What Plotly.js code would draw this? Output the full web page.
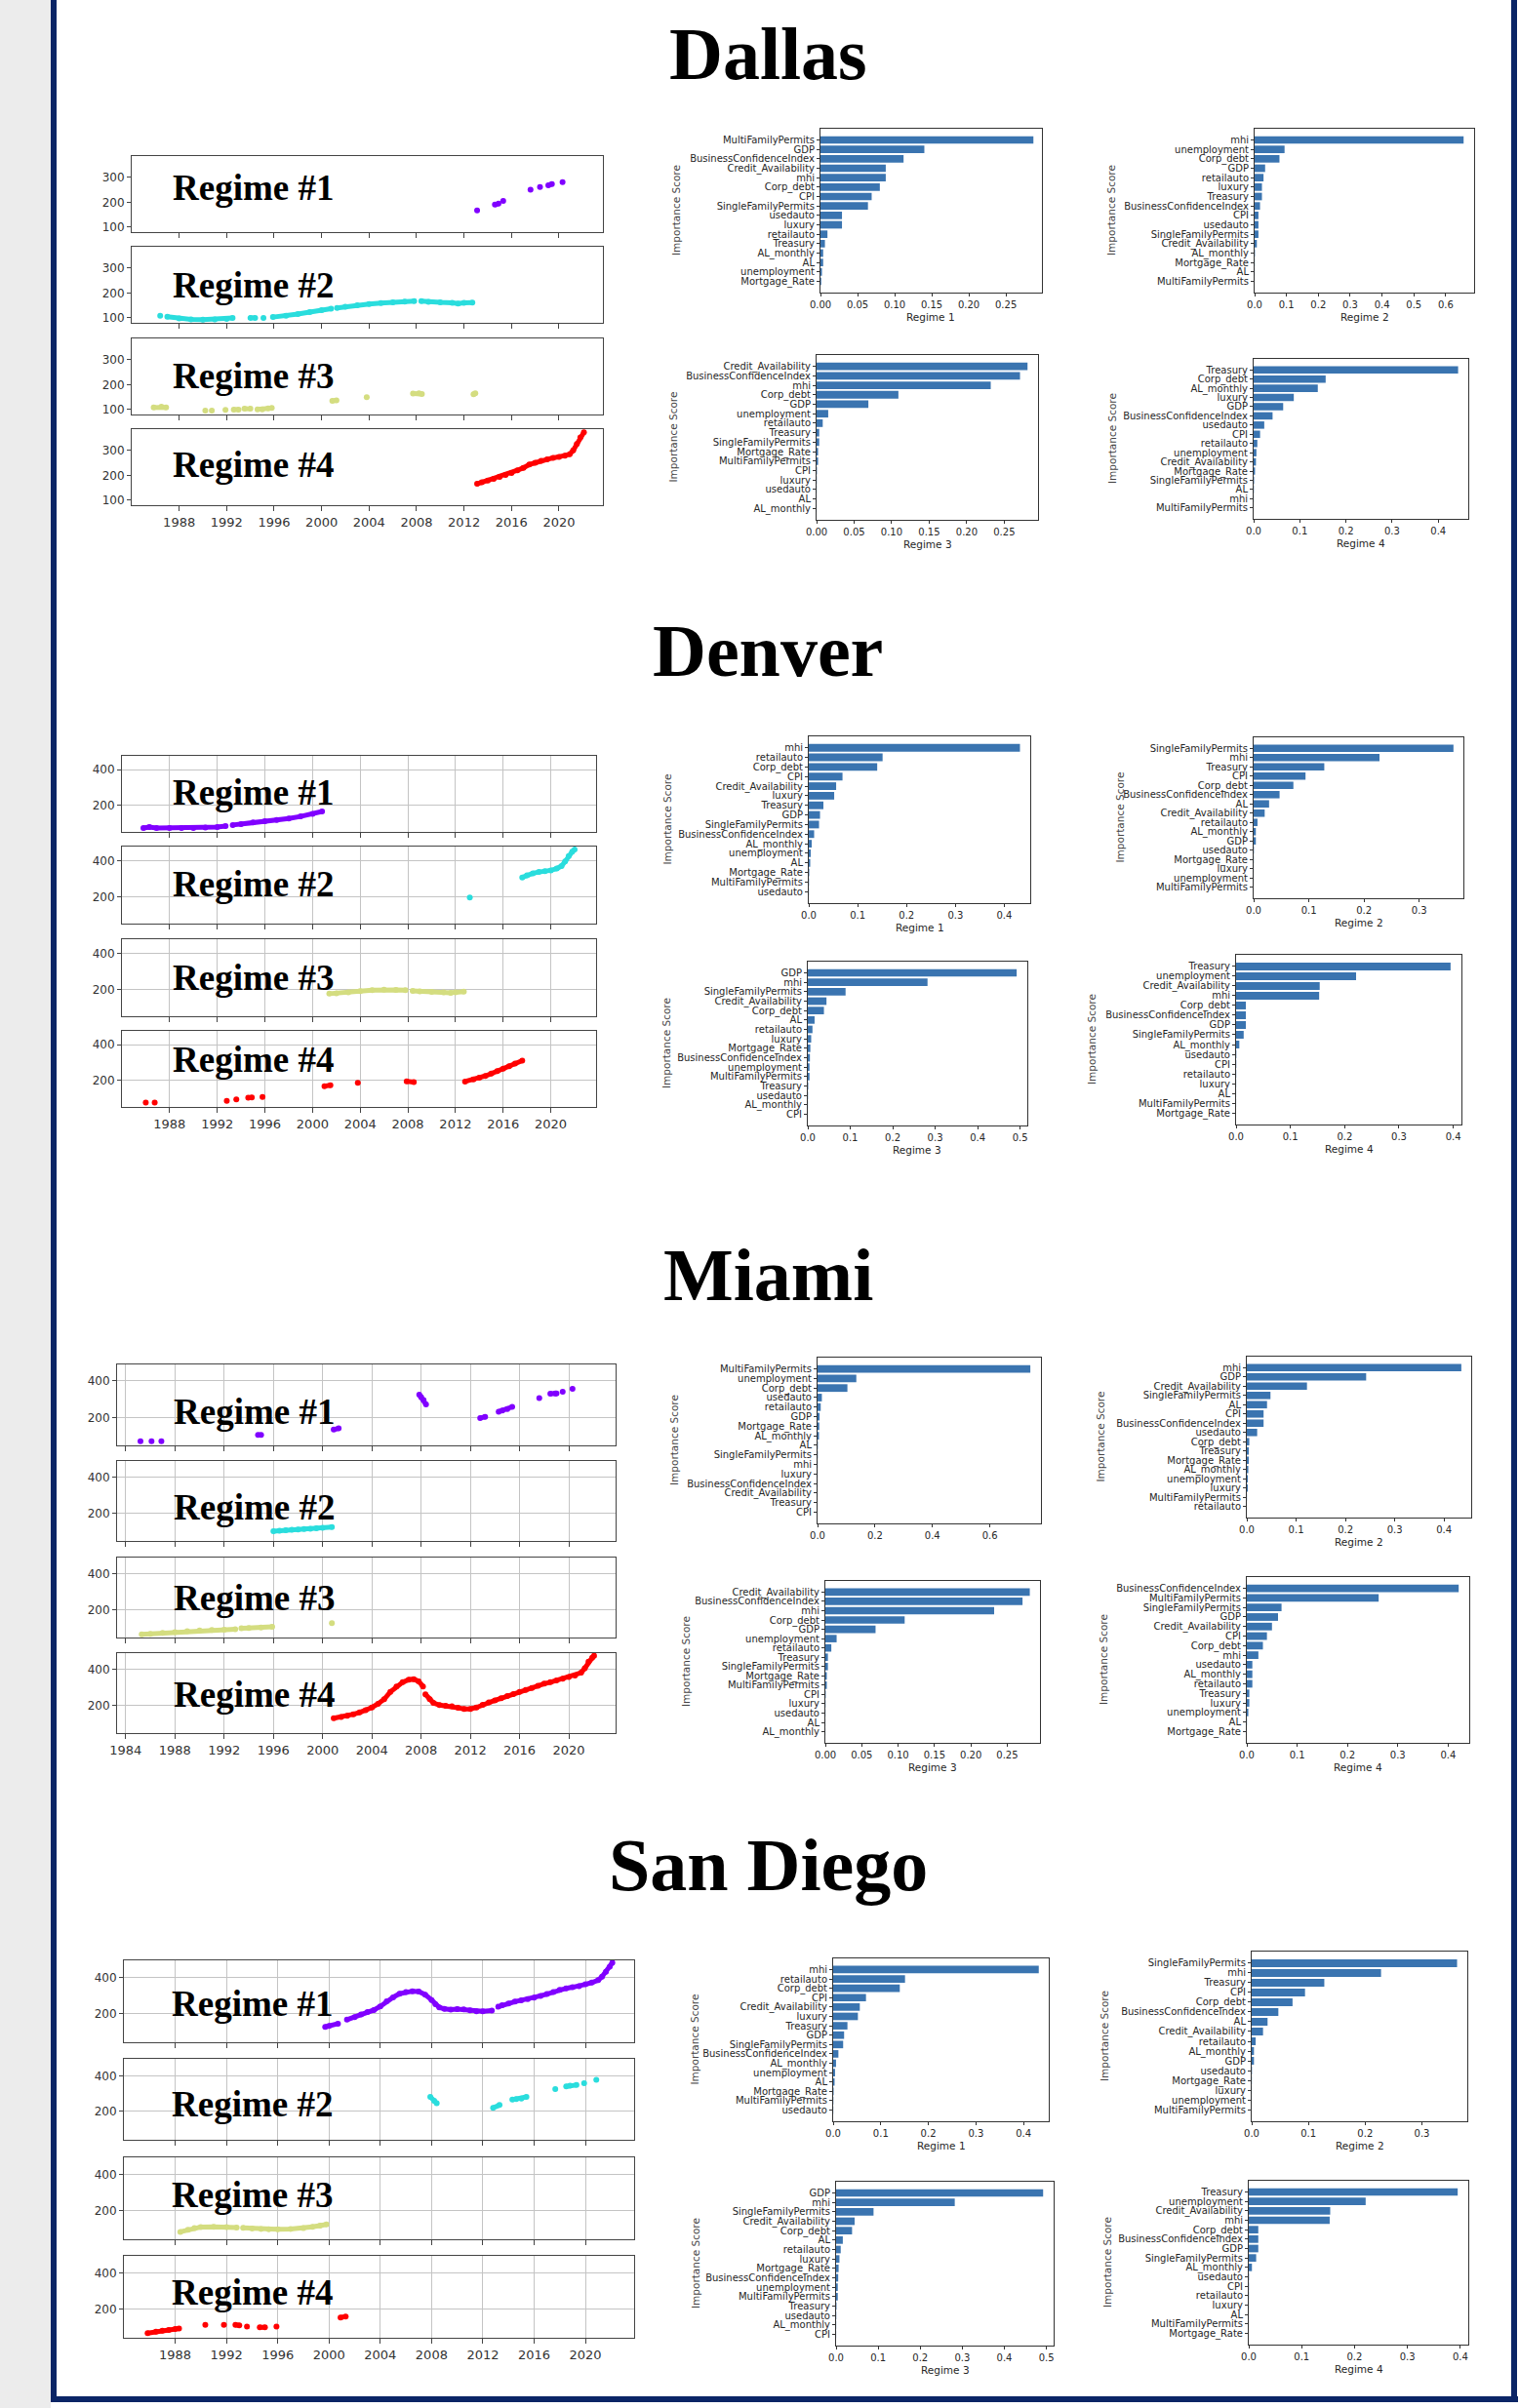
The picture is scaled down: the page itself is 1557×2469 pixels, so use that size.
<!DOCTYPE html>
<html><head><meta charset="utf-8">
<script src="https://cdn.plot.ly/plotly-3.0.1.min.js"></script>
<style>html,body{margin:0;padding:0;background:#fff;} #chart{width:1557px;height:2469px;}</style>
</head><body><div id="chart"></div>
<script>
// ---------------- DATA ----------------
// Regime scatter data (year, house price index)
const dallasR1Years  = [2013.1, null, 2014.6, 2014.9, null, 2015.3, null, 2017.6, null, 2018.4, null, 2019.1, 2019.4, null, 2020.3];
const dallasR1Values = [167, null, 190, 194, null, 205, null, 250, null, 261, null, 268, 273, null, 280];
const dallasR2Years  = [1986.4, null, 1987.0, 1988.0, 1989.0, 1990.0, 1991.0, 1992.0, 1992.5, null, 1994.0, 1994.4, null, 1995.1, null, 1995.9, 1997.0, 1998.0, 1999.0, 2000.0, 2000.8, null, 2001.3, 2002.0, 2003.0, 2004.0, 2005.0, 2006.0, 2007.0, 2007.8, null, 2008.4, 2009.0, 2010.0, 2011.0, 2011.5, 2012.0, 2012.7];
const dallasR2Values = [108, null, 104, 98, 94, 93, 94, 96, 100, null, 100, 100, null, 100, null, 103, 108, 115, 123, 131, 137, null, 140, 145, 150, 155, 159, 162, 165, 167, null, 167, 164, 162, 160, 157, 160, 161];
const dallasR3Years  = [1985.85, 1986.5, 1986.9, null, 1990.2, null, 1990.75, null, 1991.9, null, 1992.6, 1993.0, null, 1993.5, 1994.0, null, 1994.6, 1995.0, 1995.5, 1995.8, null, 2000.9, 2001.25, null, 2003.8, null, 2007.7, 2008.2, 2008.45, null, 2012.8, 2012.95];
const dallasR3Values = [108, 111, 108, null, 96, null, 96, null, 99, null, 100, 100, null, 103, 103, null, 101, 101, 104, 106, null, 135, 137, null, 149, null, 164, 165, 162, null, 161, 165];
const dallasR4Years  = [2013.1, 2013.5, 2014.0, 2014.5, 2015.0, 2015.5, 2016.0, 2016.5, 2017.0, 2017.5, 2018.0, 2018.5, 2019.0, 2019.5, 2020.0, 2020.5, 2020.9, 2021.2, 2021.5, 2021.8, 2022.1];
const dallasR4Values = [166, 172, 179, 186, 193, 201, 209, 220, 230, 243, 250, 258, 264, 270, 274, 278, 284, 300, 325, 352, 372];

const denverR1Years  = [1985.8, 1986.3, 1986.9, 1988.0, 1989.0, 1990.0, 1991.0, 1992.0, 1992.7, null, 1993.3, 1994.0, 1995.0, 1996.0, 1997.0, 1998.0, 1999.0, 2000.0, 2000.8];
const denverR1Values = [73, 78, 73, 73, 73, 73, 75, 78, 84, null, 90, 95, 104, 111, 118, 126, 138, 152, 166];
const denverR2Years  = [2013.2, null, 2017.6, 2018.0, 2018.5, 2019.0, 2019.5, 2020.0, 2020.5, 2020.9, 2021.2, 2021.5, 2021.8, 2022.0];
const denverR2Values = [196, null, 307, 318, 330, 337, 341, 346, 356, 370, 395, 425, 450, 462];
const denverR3Years  = [2001.4, 2002.0, 2003.0, 2004.0, 2005.0, 2006.0, 2007.0, 2007.8, null, 2008.4, 2009.0, 2010.0, 2011.0, 2011.6, 2012.0, 2012.7];
const denverR3Values = [176, 178, 184, 190, 195, 198, 197, 195, null, 192, 189, 186, 183, 181, 184, 187];
const denverR4Years  = [1986.0, null, 1986.75, null, 1992.8, null, 1993.6, null, 1994.6, 1994.9, null, 1995.8, null, 2001.0, 2001.5, null, 2003.8, null, 2007.9, 2008.5, null, 2012.8, 2013.5, 2014.0, 2014.5, 2015.0, 2015.5, 2016.0, 2016.5, 2017.0, 2017.6];
const denverR4Values = [76, null, 76, null, 85, null, 93, null, 103, 104, null, 107, null, 168, 173, null, 187, null, 195, 191, null, 194, 205, 215, 225, 238, 252, 266, 280, 295, 311];

const miamiR1Years  = [1985.2, null, 1986.1, null, 1986.9, null, 1994.75, 1995.0, null, 2000.9, 2001.3, null, 2007.85, 2008.0, 2008.2, 2008.4, null, 2012.8, 2013.2, null, 2014.3, 2014.6, 2015.0, 2015.4, null, 2017.6, null, 2018.5, 2018.9, 2019.0, null, 2019.5, null, 2020.3];
const miamiR1Values = [73, null, 73, null, 73, null, 106, 106, null, 135, 142, null, 324, 310, 295, 271, null, 198, 204, null, 232, 238, 246, 258, null, 306, null, 329, 331, 331, null, 340, null, 356];
const miamiR2Years  = [1996.0, 1996.5, 1997.0, 1997.5, 1998.0, 1998.5, 1999.0, 1999.5, 2000.0, 2000.75];
const miamiR2Values = [103, 106, 108, 111, 113, 115, 117, 119, 122, 126];
const miamiR3Years  = [1985.3, 1986.0, 1987.0, 1988.0, 1989.0, 1990.0, 1991.0, 1992.0, 1992.9, null, 1993.4, 1994.0, 1995.0, 1995.9, null, 2000.75];
const miamiR3Values = [67, 70, 75, 79, 84, 88, 91, 93, 95, null, 100, 102, 104, 108, null, 129];
const miamiR4Years  = [2000.9, 2001.5, 2002.0, 2002.5, 2003.0, 2003.5, 2004.0, 2004.5, 2005.0, 2005.5, 2006.0, 2006.5, 2007.0, 2007.4, 2007.8, 2008.15, null, 2008.35, 2008.7, 2009.0, 2009.5, 2010.0, 2010.5, 2011.0, 2011.5, 2012.0, 2012.5, 2013.0, 2013.5, 2014.0, 2014.5, 2015.0, 2015.5, 2016.0, 2016.5, 2017.0, 2017.5, 2018.0, 2018.5, 2019.0, 2019.5, 2020.0, 2020.5, 2021.0, 2021.3, 2021.6, 2021.9, 2022.05];
const miamiR4Values = [131, 138, 145, 153, 163, 175, 190, 210, 235, 275, 305, 328, 342, 345, 333, 305, null, 262, 235, 215, 203, 199, 197, 188, 182, 182, 190, 205, 218, 229, 240, 252, 263, 275, 286, 297, 308, 320, 328, 338, 347, 356, 365, 380, 405, 440, 462, 473];

const sanDiegoR1Years  = [1999.7, 2000.0, 2000.7, null, 2001.4, 2002.0, 2002.5, 2003.0, 2003.5, 2004.0, 2004.5, 2005.0, 2005.5, 2006.0, 2006.5, 2007.0, 2007.5, 2008.0, 2008.3, 2008.6, 2009.0, 2009.5, 2010.0, 2010.5, 2011.0, 2011.5, 2012.0, 2012.7, null, 2013.2, 2013.5, 2014.0, 2014.5, 2015.0, 2015.5, 2016.0, 2016.5, 2017.0, 2017.5, 2018.0, 2018.5, 2019.0, 2019.5, 2020.0, 2020.5, 2021.0, 2021.3, 2021.6, 2021.9, 2022.1];
const sanDiegoR1Values = [126, 132, 144, null, 166, 180, 195, 208, 220, 240, 268, 290, 310, 320, 324, 322, 305, 275, 252, 234, 226, 222, 225, 223, 218, 213, 213, 216, null, 238, 246, 256, 266, 274, 280, 288, 298, 308, 320, 332, 340, 346, 352, 362, 372, 385, 405, 432, 460, 482];
const sanDiegoR2Years  = [2007.9, 2008.2, 2008.4, null, 2012.8, 2013.3, null, 2014.3, 2014.6, 2015.0, 2015.4, null, 2017.65, null, 2018.5, 2018.8, 2019.3, null, 2019.9, null, 2020.85];
const sanDiegoR2Values = [282, 260, 246, null, 220, 236, null, 266, 269, 272, 282, null, 325, null, 340, 344, 348, null, 358, null, 377];
const sanDiegoR3Years  = [1988.4, 1989.0, 1989.5, 1990.0, 1991.0, 1992.0, 1992.8, null, 1993.3, 1994.0, 1994.7, 1995.3, 1996.0, 1997.0, 1998.0, 1998.7, 1999.3, 1999.8];
const sanDiegoR3Values = [82, 94, 103, 109, 110, 109, 106, null, 104, 101, 98, 97, 97, 98, 103, 110, 117, 123];
const sanDiegoR4Years  = [1985.85, 1986.5, 1987.0, 1987.5, 1988.0, 1988.3, null, 1990.35, null, 1991.8, null, 1992.7, 1993.0, null, 1993.6, null, 1994.6, 1995.0, null, 1995.9, null, 2000.9, 2001.3];
const sanDiegoR4Values = [67, 75, 80, 84, 89, 92, null, 112, null, 112, null, 112, 110, null, 103, null, 99, 99, null, 103, null, 153, 159];

// Feature importance data
const dallasBar1Features = ['MultiFamilyPermits','GDP','BusinessConfidenceIndex','Credit_Availability','mhi','Corp_debt','CPI','SingleFamilyPermits','usedauto','luxury','retailauto','Treasury','AL_monthly','AL','unemployment','Mortgage_Rate'];
const dallasBar1Scores   = [0.287, 0.140, 0.112, 0.088, 0.088, 0.080, 0.069, 0.064, 0.029, 0.029, 0.0094, 0.006, 0.0036, 0.0036, 0.002, 0.001];
const dallasBar2Features = ['mhi','unemployment','Corp_debt','GDP','retailauto','luxury','Treasury','BusinessConfidenceIndex','CPI','usedauto','SingleFamilyPermits','Credit_Availability','AL_monthly','Mortgage_Rate','AL','MultiFamilyPermits'];
const dallasBar2Scores   = [0.656, 0.094, 0.078, 0.033, 0.028, 0.023, 0.023, 0.017, 0.012, 0.012, 0.012, 0.007, 0.001, 0.0005, 0.0003, 0];
const dallasBar3Features = ['Credit_Availability','BusinessConfidenceIndex','mhi','Corp_debt','GDP','unemployment','retailauto','Treasury','SingleFamilyPermits','Mortgage_Rate','MultiFamilyPermits','CPI','luxury','usedauto','AL','AL_monthly'];
const dallasBar3Scores   = [0.281, 0.271, 0.232, 0.109, 0.069, 0.0155, 0.0082, 0.0035, 0.0035, 0.002, 0.002, 0.0005, 0.0003, 0.0002, 0.0001, 0.0001];
const dallasBar4Features = ['Treasury','Corp_debt','AL_monthly','luxury','GDP','BusinessConfidenceIndex','usedauto','CPI','retailauto','unemployment','Credit_Availability','Mortgage_Rate','SingleFamilyPermits','AL','mhi','MultiFamilyPermits'];
const dallasBar4Scores   = [0.443, 0.156, 0.139, 0.087, 0.064, 0.041, 0.023, 0.014, 0.008, 0.006, 0.005, 0.003, 0.001, 0.0005, 0.0003, 0.0001];

const denverBar1Features = ['mhi','retailauto','Corp_debt','CPI','Credit_Availability','luxury','Treasury','GDP','SingleFamilyPermits','BusinessConfidenceIndex','AL_monthly','unemployment','AL','Mortgage_Rate','MultiFamilyPermits','usedauto'];
const denverBar1Scores   = [0.432, 0.151, 0.140, 0.069, 0.056, 0.052, 0.030, 0.023, 0.021, 0.011, 0.006, 0.004, 0.003, 0.001, 0.0005, 0.0003];
const denverBar2Features = ['SingleFamilyPermits','mhi','Treasury','CPI','Corp_debt','BusinessConfidenceIndex','AL','Credit_Availability','retailauto','AL_monthly','GDP','usedauto','Mortgage_Rate','luxury','unemployment','MultiFamilyPermits'];
const denverBar2Scores   = [0.362, 0.228, 0.128, 0.094, 0.072, 0.047, 0.028, 0.020, 0.007, 0.004, 0.004, 0.0005, 0.0003, 0.0002, 0.0001, 0];
const denverBar3Features = ['GDP','mhi','SingleFamilyPermits','Credit_Availability','Corp_debt','AL','retailauto','luxury','Mortgage_Rate','BusinessConfidenceIndex','unemployment','MultiFamilyPermits','Treasury','usedauto','AL_monthly','CPI'];
const denverBar3Scores   = [0.492, 0.282, 0.089, 0.044, 0.038, 0.016, 0.011, 0.008, 0.006, 0.005, 0.004, 0.004, 0.001, 0.0005, 0.0003, 0.0002];
const denverBar4Features = ['Treasury','unemployment','Credit_Availability','mhi','Corp_debt','BusinessConfidenceIndex','GDP','SingleFamilyPermits','AL_monthly','usedauto','CPI','retailauto','luxury','AL','MultiFamilyPermits','Mortgage_Rate'];
const denverBar4Scores   = [0.395, 0.221, 0.154, 0.153, 0.018, 0.018, 0.018, 0.014, 0.006, 0.0005, 0.0004, 0.0003, 0.0002, 0.0001, 0.0001, 0];

const miamiBar1Features = ['MultiFamilyPermits','unemployment','Corp_debt','usedauto','retailauto','GDP','Mortgage_Rate','AL_monthly','AL','SingleFamilyPermits','mhi','luxury','BusinessConfidenceIndex','Credit_Availability','Treasury','CPI'];
const miamiBar1Scores   = [0.741, 0.135, 0.104, 0.015, 0.011, 0.007, 0.006, 0.005, 0.001, 0.0008, 0.0005, 0.0004, 0.0003, 0.0002, 0.0001, 0];
const miamiBar2Features = ['mhi','GDP','Credit_Availability','SingleFamilyPermits','AL','CPI','BusinessConfidenceIndex','usedauto','Corp_debt','Treasury','Mortgage_Rate','AL_monthly','unemployment','luxury','MultiFamilyPermits','retailauto'];
const miamiBar2Scores   = [0.435, 0.242, 0.122, 0.048, 0.041, 0.034, 0.034, 0.021, 0.005, 0.004, 0.004, 0.003, 0.002, 0.002, 0.0003, 0.0001];
const miamiBar3Features = ['Credit_Availability','BusinessConfidenceIndex','mhi','Corp_debt','GDP','unemployment','retailauto','Treasury','SingleFamilyPermits','Mortgage_Rate','MultiFamilyPermits','CPI','luxury','usedauto','AL','AL_monthly'];
const miamiBar3Scores   = [0.281, 0.271, 0.232, 0.109, 0.069, 0.0155, 0.0082, 0.0035, 0.0035, 0.002, 0.002, 0.0005, 0.0003, 0.0002, 0.0001, 0.0001];
const miamiBar4Features = ['BusinessConfidenceIndex','MultiFamilyPermits','SingleFamilyPermits','GDP','Credit_Availability','CPI','Corp_debt','mhi','usedauto','AL_monthly','retailauto','Treasury','luxury','unemployment','AL','Mortgage_Rate'];
const miamiBar4Scores   = [0.421, 0.262, 0.069, 0.062, 0.050, 0.040, 0.032, 0.023, 0.011, 0.011, 0.011, 0.005, 0.005, 0.003, 0.0003, 0.0001];

const sanDiegoBar1Features = ['mhi','retailauto','Corp_debt','CPI','Credit_Availability','luxury','Treasury','GDP','SingleFamilyPermits','BusinessConfidenceIndex','AL_monthly','unemployment','AL','Mortgage_Rate','MultiFamilyPermits','usedauto'];
const sanDiegoBar1Scores   = [0.432, 0.151, 0.140, 0.069, 0.056, 0.052, 0.030, 0.023, 0.021, 0.011, 0.006, 0.004, 0.003, 0.001, 0.0005, 0.0003];
const sanDiegoBar2Features = ['SingleFamilyPermits','mhi','Treasury','CPI','Corp_debt','BusinessConfidenceIndex','AL','Credit_Availability','retailauto','AL_monthly','GDP','usedauto','Mortgage_Rate','luxury','unemployment','MultiFamilyPermits'];
const sanDiegoBar2Scores   = [0.362, 0.228, 0.128, 0.094, 0.072, 0.047, 0.028, 0.020, 0.007, 0.004, 0.004, 0.0005, 0.0003, 0.0002, 0.0001, 0];
const sanDiegoBar3Features = ['GDP','mhi','SingleFamilyPermits','Credit_Availability','Corp_debt','AL','retailauto','luxury','Mortgage_Rate','BusinessConfidenceIndex','unemployment','MultiFamilyPermits','Treasury','usedauto','AL_monthly','CPI'];
const sanDiegoBar3Scores   = [0.492, 0.282, 0.089, 0.044, 0.038, 0.016, 0.011, 0.008, 0.006, 0.005, 0.004, 0.004, 0.001, 0.0005, 0.0003, 0.0002];
const sanDiegoBar4Features = ['Treasury','unemployment','Credit_Availability','mhi','Corp_debt','BusinessConfidenceIndex','GDP','SingleFamilyPermits','AL_monthly','usedauto','CPI','retailauto','luxury','AL','MultiFamilyPermits','Mortgage_Rate'];
const sanDiegoBar4Scores   = [0.395, 0.221, 0.154, 0.153, 0.018, 0.018, 0.018, 0.014, 0.006, 0.0005, 0.0004, 0.0003, 0.0002, 0.0001, 0.0001, 0];

const cityNames = ['Dallas', 'Denver', 'Miami', 'San Diego'];
const regimeLabels = ['Regime #1', 'Regime #2', 'Regime #3', 'Regime #4'];
const barAxisLabels = ['Regime 1', 'Regime 2', 'Regime 3', 'Regime 4'];
const yearTicks = [1988, 1992, 1996, 2000, 2004, 2008, 2012, 2016, 2020];
const yearTicksMiami = [1984, 1988, 1992, 1996, 2000, 2004, 2008, 2012, 2016, 2020];

// ---------------- LAYOUT CONFIG ----------------
const W = 1557, H = 2469;
const px = x => x / W, py = y => 1 - y / H;
const regimeColors = ['#8000ff', '#2adddd', '#d4dd80', '#ff0000'];
const barColor = '#3a74b0';

const cityCfg = [
  { title: cityNames[0], titleY: 55, sx: [135, 618], panels: [[160,238],[253,331],[347,425],[440,518]],
    xRange: [1984.0, 2023.7], yRange: [80, 385], yTicks: [100,200,300], grid: false, xTicks: yearTicks, labX: 175, labY: [193,293,385,477],
    series: [[dallasR1Years,dallasR1Values],[dallasR2Years,dallasR2Values],[dallasR3Years,dallasR3Values],[dallasR4Years,dallasR4Values]],
    bars: [
      {f: dallasBar1Features, s: dallasBar1Scores, x:[841,1068], y:[132,300], r:0.2985, dt:0.05, fmt:'.2f', ylx:693, xl:true},
      {f: dallasBar2Features, s: dallasBar2Scores, x:[1286,1511], y:[132,300], r:0.689, dt:0.1, fmt:'.1f', ylx:1139, xl:true},
      {f: dallasBar3Features, s: dallasBar3Scores, x:[837,1064], y:[364,533], r:0.295, dt:0.05, fmt:'.2f', ylx:690, xl:true},
      {f: dallasBar4Features, s: dallasBar4Scores, x:[1285,1505], y:[368,532], r:0.465, dt:0.1, fmt:'.1f', ylx:1140, xl:true}]},
  { title: cityNames[1], titleY: 667, sx: [125, 611], panels: [[775,853],[868,947],[963,1042],[1057,1135]],
    xRange: [1984.0, 2023.8], yRange: [51, 478], yTicks: [200,400], grid: true, xTicks: yearTicks, labX: 175, labY: [812,906,1002,1087],
    series: [[denverR1Years,denverR1Values],[denverR2Years,denverR2Values],[denverR3Years,denverR3Values],[denverR4Years,denverR4Values]],
    bars: [
      {f: denverBar1Features, s: denverBar1Scores, x:[829,1056], y:[755,926], r:0.453, dt:0.1, fmt:'.1f', ylx:683, xl:true},
      {f: denverBar2Features, s: denverBar2Scores, x:[1285,1500], y:[756,921], r:0.38, dt:0.1, fmt:'.1f', ylx:1147, xl:true},
      {f: denverBar3Features, s: denverBar3Scores, x:[828,1053], y:[986,1154], r:0.517, dt:0.1, fmt:'.1f', ylx:683, xl:true},
      {f: denverBar4Features, s: denverBar4Scores, x:[1267,1498], y:[979,1153], r:0.415, dt:0.1, fmt:'.1f', ylx:1119, xl:true}]},
  { title: cityNames[2], titleY: 1307, sx: [120, 631], panels: [[1399,1482],[1498,1580],[1597,1679],[1695,1777]],
    xRange: [1983.3, 2023.8], yRange: [50, 487], yTicks: [200,400], grid: true, xTicks: yearTicksMiami, labX: 176, labY: [1447,1545,1638,1737],
    series: [[miamiR1Years,miamiR1Values],[miamiR2Years,miamiR2Values],[miamiR3Years,miamiR3Values],[miamiR4Years,miamiR4Values]],
    bars: [
      {f: miamiBar1Features, s: miamiBar1Scores, x:[838,1067], y:[1392,1562], r:0.778, dt:0.2, fmt:'.1f', ylx:691, xl:false},
      {f: miamiBar2Features, s: miamiBar2Scores, x:[1278,1508], y:[1391,1556], r:0.455, dt:0.1, fmt:'.1f', ylx:1127, xl:true},
      {f: miamiBar3Features, s: miamiBar3Scores, x:[846,1066], y:[1621,1787], r:0.295, dt:0.05, fmt:'.2f', ylx:703, xl:true},
      {f: miamiBar4Features, s: miamiBar4Scores, x:[1278,1506], y:[1617,1787], r:0.442, dt:0.1, fmt:'.1f', ylx:1131, xl:true}]},
  { title: cityNames[3], titleY: 1912, sx: [127, 650], panels: [[2010,2094],[2111,2194],[2212,2296],[2313,2397]],
    xRange: [1984.0, 2023.8], yRange: [41, 495], yTicks: [200,400], grid: true, xTicks: yearTicks, labX: 174, labY: [2054,2157,2250,2350],
    series: [[sanDiegoR1Years,sanDiegoR1Values],[sanDiegoR2Years,sanDiegoR2Values],[sanDiegoR3Years,sanDiegoR3Values],[sanDiegoR4Years,sanDiegoR4Values]],
    bars: [
      {f: sanDiegoBar1Features, s: sanDiegoBar1Scores, x:[854,1075], y:[2008,2175], r:0.453, dt:0.1, fmt:'.1f', ylx:711, xl:true},
      {f: sanDiegoBar2Features, s: sanDiegoBar2Scores, x:[1283,1504], y:[2001,2175], r:0.38, dt:0.1, fmt:'.1f', ylx:1132, xl:true},
      {f: sanDiegoBar3Features, s: sanDiegoBar3Scores, x:[857,1080], y:[2237,2405], r:0.517, dt:0.1, fmt:'.1f', ylx:713, xl:true},
      {f: sanDiegoBar4Features, s: sanDiegoBar4Scores, x:[1280,1505], y:[2236,2404], r:0.415, dt:0.1, fmt:'.1f', ylx:1135, xl:true}]}
];

// ---------------- BUILD ----------------
const traces = [];
const layout = {
  width: W, height: H, margin: {l:0, r:0, t:0, b:0},
  paper_bgcolor: '#ffffff', plot_bgcolor: '#ffffff', showlegend: false,
  annotations: [], shapes: []
};
let n = 0;
const axName = (k, i) => k + (i === 1 ? '' : i);

cityCfg.forEach(c => {
  layout.annotations.push({text: '<b>' + c.title + '</b>', xref: 'paper', yref: 'paper', x: px(787), y: py(c.titleY),
    xanchor: 'center', yanchor: 'middle', showarrow: false, font: {family: 'Liberation Serif', size: 76, color: '#000'}});
  // scatter panels
  c.panels.forEach((p, i) => {
    n++;
    const bottom = i === 3;
    layout[axName('xaxis', n)] = {domain: [px(c.sx[0]), px(c.sx[1])], range: c.xRange, anchor: axName('y', n),
      showline: true, mirror: true, linecolor: '#444', linewidth: 1, ticks: 'outside', ticklen: 5, tickcolor: '#444',
      tickmode: 'array', tickvals: c.xTicks, showticklabels: bottom, showgrid: c.grid, gridcolor: '#c4c4c4', zeroline: false,
      tickfont: {family: 'DejaVu Sans', size: 13, color: '#333'}};
    layout[axName('yaxis', n)] = {domain: [py(p[1]), py(p[0])], range: c.yRange, anchor: axName('x', n),
      showline: true, mirror: true, linecolor: '#444', linewidth: 1, ticks: 'outside', ticklen: 4, tickcolor: '#444',
      tickmode: 'array', tickvals: c.yTicks, showgrid: c.grid, gridcolor: '#c4c4c4', zeroline: false,
      tickfont: {family: 'DejaVu Sans', size: 12, color: '#333'}};
    traces.push({type: 'scatter', mode: 'lines+markers', x: c.series[i][0], y: c.series[i][1],
      xaxis: axName('x', n), yaxis: axName('y', n), connectgaps: false,
      line: {color: regimeColors[i], width: 5}, marker: {color: regimeColors[i], size: 6}, hoverinfo: 'skip'});
    layout.annotations.push({text: '<b>' + regimeLabels[i] + '</b>', xref: 'paper', yref: 'paper', x: px(c.labX), y: py(c.labY[i]),
      xanchor: 'left', yanchor: 'middle', showarrow: false, font: {family: 'Liberation Serif', size: 37, color: '#000'}});
  });
  // bar charts
  c.bars.forEach((b, i) => {
    n++;
    const cnt = b.f.length;
    layout[axName('xaxis', n)] = {domain: [px(b.x[0]), px(b.x[1])], range: [0, b.r], anchor: axName('y', n),
      showline: true, mirror: true, linecolor: '#333', linewidth: 1, ticks: 'outside', ticklen: 3, tickcolor: '#333',
      dtick: b.dt, tick0: 0, tickformat: b.fmt, showgrid: false, zeroline: false,
      tickfont: {family: 'DejaVu Sans', size: 10, color: '#262626'}};
    layout[axName('yaxis', n)] = {domain: [py(b.y[1]), py(b.y[0])], type: 'category', categoryorder: 'array', categoryarray: b.f,
      tickmode: 'array', tickvals: b.f, ticktext: b.f,
      range: [cnt - 1 + 1.19, -1.19], anchor: axName('x', n),
      showline: true, mirror: true, linecolor: '#333', linewidth: 1, ticks: 'outside', ticklen: 3, tickcolor: '#333',
      showgrid: false, zeroline: false, tickfont: {family: 'DejaVu Sans', size: 10, color: '#262626'}};
    traces.push({type: 'bar', orientation: 'h', x: b.s, y: b.f, width: 0.8,
      xaxis: axName('x', n), yaxis: axName('y', n), marker: {color: barColor}, hoverinfo: 'skip'});
    layout.annotations.push({text: 'Importance Score', xref: 'paper', yref: 'paper', x: px(b.ylx), y: py((b.y[0] + b.y[1]) / 2),
      xanchor: 'center', yanchor: 'middle', textangle: -90, showarrow: false, font: {family: 'DejaVu Sans', size: 10.5, color: '#444'}});
    if (b.xl) {
      layout.annotations.push({text: barAxisLabels[i], xref: 'paper', yref: 'paper', x: px((b.x[0] + b.x[1]) / 2), y: py(b.y[1] + 25),
        xanchor: 'center', yanchor: 'middle', showarrow: false, font: {family: 'DejaVu Sans', size: 10.5, color: '#262626'}});
    }
  });
});

// page frame
layout.shapes.push({type: 'rect', xref: 'paper', yref: 'paper', x0: 0, x1: px(52), y0: 0, y1: 1, fillcolor: '#ececec', line: {width: 0}, layer: 'below'});
layout.shapes.push({type: 'line', xref: 'paper', yref: 'paper', x0: px(55), x1: px(55), y0: py(2461), y1: 1, line: {color: '#0b2566', width: 6}});
layout.shapes.push({type: 'line', xref: 'paper', yref: 'paper', x0: px(52), x1: px(1556), y0: py(2460), y1: py(2460), line: {color: '#0b2566', width: 6}});
layout.shapes.push({type: 'line', xref: 'paper', yref: 'paper', x0: px(1552), x1: px(1552), y0: py(2461), y1: 1, line: {color: '#0b2566', width: 6}});

Plotly.newPlot('chart', traces, layout, {staticPlot: true});
</script>
</body></html>
